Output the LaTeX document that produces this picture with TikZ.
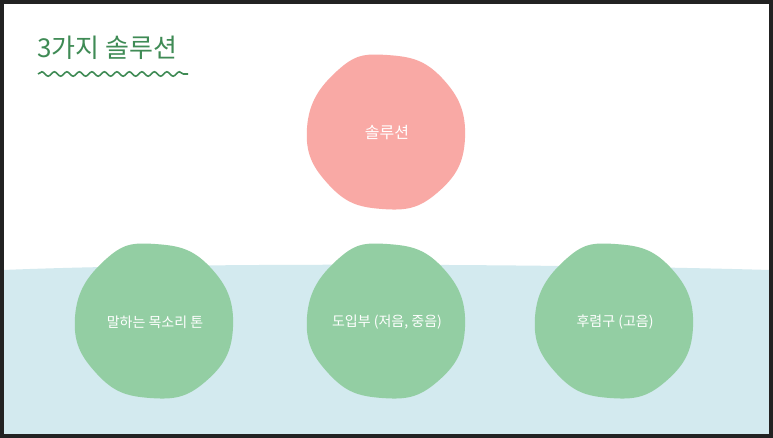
\documentclass[tikz,border=0pt]{standalone}
\usepackage{fontspec}
\setmainfont{Noto Sans CJK KR}
\usetikzlibrary{decorations.pathmorphing}
\definecolor{titlegreen}{HTML}{3F8B55}
\definecolor{blobgreen}{HTML}{93CEA3}
\definecolor{blobpink}{HTML}{F9A9A5}
\definecolor{bandblue}{HTML}{D3EAEF}
\definecolor{frame}{HTML}{222222}
\tikzset{
  lbl/.style={text=white, font=\fontsize{14}{16}\selectfont},
}
\newcommand{\blob}[3]{% center, color, name
  \fill[#2] plot[smooth cycle, tension=0.8] coordinates {
    ($(#1)+(0,-78)$) ($(#1)+(55,-55)$) ($(#1)+(78,5)$) ($(#1)+(50,60)$)
    ($(#1)+(-5,76)$) ($(#1)+(-58,52)$) ($(#1)+(-80,-5)$) ($(#1)+(-50,-62)$)};
  \coordinate (#3) at (#1);
}
\usetikzlibrary{calc}
\begin{document}
\begin{tikzpicture}[x=1pt,y=-1pt]
\useasboundingbox (0,0) rectangle (773,438);
\fill[white] (0,0) rectangle (773,438);
% band
\fill[bandblue] (3,270) .. controls (200,262) and (560,264) .. (770,270) -- (770,435) -- (3,435) -- cycle;
% title
\node[anchor=west, text=titlegreen, font=\fontsize{26}{30}\selectfont] (title) at (34,48) {3가지 솔루션};
\draw[titlegreen, line width=1.6pt, decorate, decoration={snake, amplitude=2.2pt, segment length=12.5pt}] (38,74) -- (188,74);
% blobs
\blob{387,133}{blobpink}{sol}
\blob{155,322}{blobgreen}{tone}
\blob{387,322}{blobgreen}{intro}
\blob{615,322}{blobgreen}{chorus}
\node[lbl, font=\fontsize{16}{18}\selectfont] (solt) at (sol) {솔루션};
\node[lbl] (tonet) at (tone) {말하는 목소리 톤};
\node[lbl] (introt) at (intro) {도입부 (저음, 중음)};
\node[lbl] (chorust) at (chorus) {후렴구 (고음)};
% frame
\draw[frame, line width=4pt] (2,2) rectangle (771,436);
\end{tikzpicture}
\end{document}
